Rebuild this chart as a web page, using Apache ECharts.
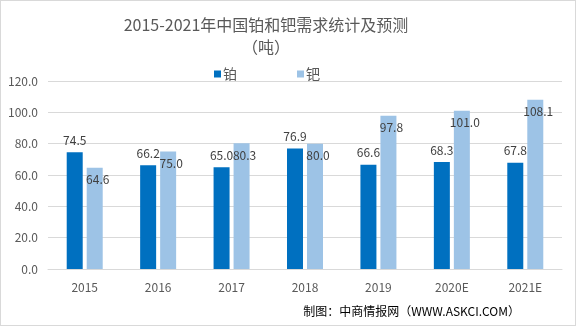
<!DOCTYPE html>
<html><head><meta charset="utf-8">
<script src="https://cdn.jsdelivr.net/npm/echarts@6/dist/echarts.min.js"></script>
<style>html,body{margin:0;padding:0;background:#fff}#c{width:574px;height:324px;border:1px solid #d9d9d9}</style>
</head><body><div id="c"></div>
<script>
const categories = ['2015','2016','2017','2018','2019','2020E','2021E'];
const platinum = [74.5,66.2,65.0,76.9,66.6,68.3,67.8];
const palladium = [64.6,75.0,80.3,80.0,97.8,101.0,108.1];
const seriesNames = ['铂','钯'];
const yTicks = {min:0,max:120,interval:20};

const chart = echarts.init(document.getElementById('c'));
const font = '"Noto Sans CJK SC", "Liberation Sans", sans-serif';
chart.setOption({
  animation:false,
  title:{text:'2015-2021年中国铂和钯需求统计及预测\n（吨）',left:260,top:8,textAlign:'center',
    textStyle:{fontFamily:font,fontSize:16,fontWeight:'normal',color:'#595959',lineHeight:22}},
  legend:{top:61,left:208,itemGap:60,itemWidth:7,itemHeight:7,icon:'rect',
    textStyle:{fontFamily:font,fontSize:14,color:'#595959',padding:[0,0,0,-3]}},
  grid:{left:47,right:13,top:80,bottom:56},
  xAxis:{type:'category',data:categories,axisLine:{lineStyle:{color:'#d9d9d9'}},axisTick:{show:false},
    axisLabel:{fontFamily:font,fontSize:12,color:'#595959',margin:12}},
  yAxis:{type:'value',min:yTicks.min,max:yTicks.max,interval:yTicks.interval,
    axisLabel:{fontFamily:font,fontSize:12,color:'#595959',margin:10,formatter:v=>v.toFixed(1)},
    splitLine:{lineStyle:{color:'#d9d9d9'}}},
  series:[
    {name:seriesNames[0],type:'bar',data:platinum,barWidth:16,barGap:'25%',itemStyle:{color:'#0070C0'},
      label:{show:true,position:'top',distance:6,fontFamily:font,fontSize:12,color:'#404040',formatter:p=>p.value.toFixed(1)}},
    {name:seriesNames[1],type:'bar',data:palladium,barWidth:16,itemStyle:{color:'#9DC3E6'},
      label:{show:true,position:'insideTop',distance:6,offset:[3,0],fontFamily:font,fontSize:12,color:'#404040',formatter:p=>p.value.toFixed(1)}}
  ],
  graphic:[{type:'text',right:55,top:304,style:{text:'制图：中商情报网（WWW.ASKCI.COM）',font:'12px '+font,fill:'#000'}}]
});
</script></body></html>
